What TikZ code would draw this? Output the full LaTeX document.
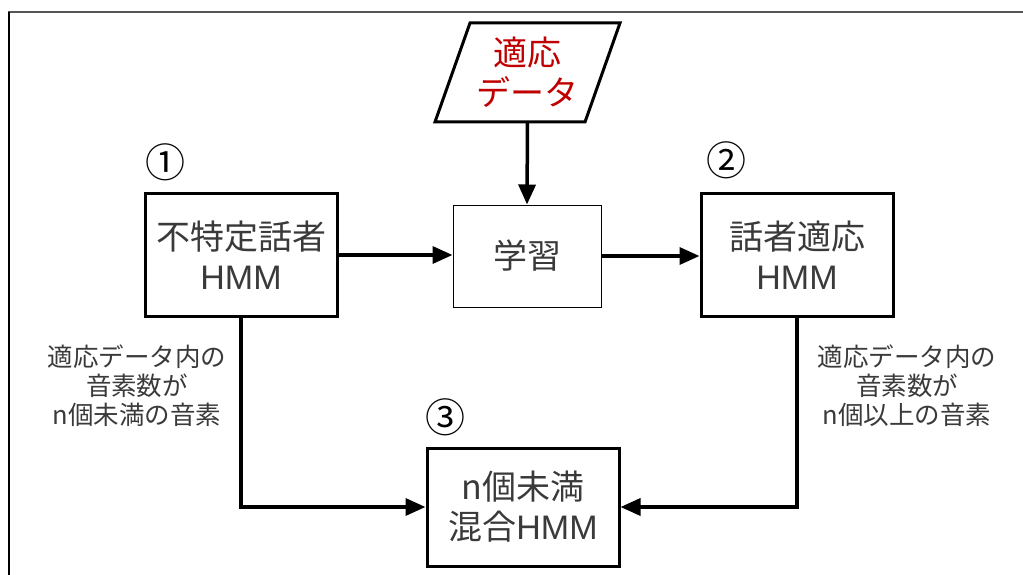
\documentclass[tikz,border=0pt]{standalone}
\usepackage{fontspec}
\setmainfont{Noto Sans CJK JP}
\newfontfamily\latinfont{Liberation Sans}
\usetikzlibrary{arrows.meta}
\definecolor{txt}{HTML}{3A3A3A}
\definecolor{redtxt}{HTML}{C00000}
\definecolor{framegray}{HTML}{555555}
\begin{document}
\begin{tikzpicture}[x=1pt,y=-1pt,
  hmmbox/.style={draw, line width=3pt, minimum width=192pt, minimum height=123pt, align=center, text=txt, font=\fontsize{34}{40}\selectfont},
  learnbox/.style={draw, line width=1pt, minimum width=148pt, minimum height=102pt, align=center, text=txt, font=\fontsize{34}{40}\selectfont},
  lbl/.style={align=center, text=txt, font=\fontsize{25.5}{29}\selectfont},
  num/.style={text=black, font=\fontsize{40}{40}\selectfont, inner sep=0pt},
  arr/.style={line width=3.5pt, -{Triangle[length=20pt,width=17pt]}}
]
\useasboundingbox (0,0) rectangle (1023,575);
% frame
\draw[framegray, line width=2pt] (8,12.5) -- (1023,12.5);
\draw[black, line width=2pt] (8.5,12) -- (8.5,575);
% data parallelogram
\draw[line width=3pt, line join=miter] (470,23) -- (620,23) -- (585,122) -- (435,122) -- cycle;
\node[align=center, text=redtxt, font=\fontsize{34}{40}\selectfont] (data) at (527.5,72) {適応\\データ};
\coordinate (datab) at (527.5,122);
% boxes
\node[hmmbox] (n1) at (241,255) {不特定話者\\{\latinfont HMM}};
\node[learnbox] (learn) at (527,256) {学習};
\node[hmmbox] (n2) at (797,255) {話者適応\\{\latinfont HMM}};
\node[hmmbox, minimum height=118pt] (n3) at (523,507) {n個未満\\混合{\latinfont HMM}};
% numbers
\node[num] (c1) at (165,162) {①};
\node[num] (c2) at (726,160) {②};
\node[num] (c3) at (445,417) {③};
% labels
\node[lbl] (l1) at (137,386) {適応データ内の\\音素数が\\n個未満の音素};
\node[lbl] (l2) at (907,386) {適応データ内の\\音素数が\\n個以上の音素};
% arrows
\draw[arr] (datab) -- (learn.north);
\draw[arr] (n1.east) -- (n1.east -| learn.west);
\draw[arr] (learn.east) -- (learn.east -| n2.west);
\draw[arr] (n1.south) |- (n3.west);
\draw[arr] (n2.south) |- (n3.east);
\end{tikzpicture}
\end{document}
